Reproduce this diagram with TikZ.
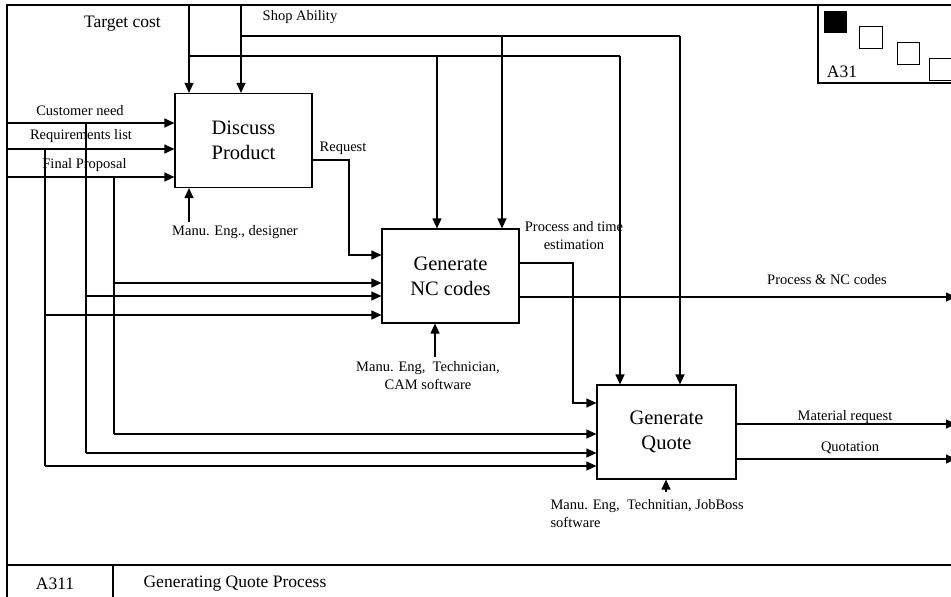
\documentclass[tikz,border=0pt]{standalone}
\usepackage{fontspec}
\setmainfont{Liberation Serif}
\usetikzlibrary{arrows.meta}
\begin{document}
\begin{tikzpicture}[x=1pt,y=-1pt,line width=1.2pt,
  arr/.style={-{Triangle[length=10pt,width=9pt]}},
  proc/.style={draw,rectangle,minimum width=137pt,minimum height=94pt,
    inner sep=0pt,align=center,font=\fontsize{20.5}{25}\selectfont},
  lbl/.style={inner sep=0pt,font=\fontsize{14.5}{18}\selectfont},
  big/.style={inner sep=0pt,font=\fontsize{17.5}{20}\selectfont},
  sq/.style={draw,line width=0.9pt}]
\useasboundingbox (0,0) rectangle (951,597);

% sheet frame and title strip
\draw (7,597) -- (7,5) -- (960,5);
\draw (7,565) -- (960,565);
\draw (113,565) -- (113,597);
\node[big] (num) at (55,584) {A311};
\node[big,anchor=west] (ttl) at (143,584) {Generating Quote Process};

% parent node indicator
\draw (818,5) -- (818,83) -- (960,83);
\fill (824,11) rectangle (847,33);
\draw[sq] (859,26) rectangle (882,48);
\draw[sq] (897,42) rectangle (919,64);
\draw[sq] (929,58) rectangle (956,80);
\node[big] (par) at (842,72) {A31};

% activities
\node[proc] (dp) at (243.5,140.5) {Discuss\\Product};
\node[proc] (nc) at (450.5,276) {Generate\\NC codes};
\node[proc,minimum width=139pt] (gq) at (666.5,432) {Generate\\Quote};

% inputs
\coordinate (cn) at (7,123);
\coordinate (rl) at (7,149);
\coordinate (fp) at (7,177);
\draw[arr] (cn) -- (dp.west |- cn);
\draw[arr] (rl) -- (dp.west |- rl);
\draw[arr] (fp) -- (dp.west |- fp);
\node[lbl] (lcn) at (80,111) {Customer need};
\node[lbl] (lrl) at (81,136) {Requirements list};
\node[lbl] (lfp) at (84.5,165) {Final Proposal};

% customer need branch
\coordinate (c1) at (86,123);
\coordinate (c2) at (86,296);
\coordinate (c3) at (86,453);
\draw (c1) -- (c3);
\draw[arr] (c2) -- (nc.west |- c2);
\draw[arr] (c3) -- (gq.west |- c3);
% requirements list branch
\coordinate (r1) at (45,149);
\coordinate (r2) at (45,315);
\coordinate (r3) at (45,466);
\draw (r1) -- (r3);
\draw[arr] (r2) -- (nc.west |- r2);
\draw[arr] (r3) -- (gq.west |- r3);
% final proposal branch
\coordinate (f1) at (114,177);
\coordinate (f2) at (114,283);
\coordinate (f3) at (114,434);
\draw (f1) -- (f3);
\draw[arr] (f2) -- (nc.west |- f2);
\draw[arr] (f3) -- (gq.west |- f3);

% controls from the top
\coordinate (tc) at (189,5);
\coordinate (tcb) at (189,56);
\coordinate (tcq) at (620,56);
\coordinate (tcn) at (437,56);
\draw[arr] (tc) -- (dp.north -| tc);
\draw (tcb) -- (tcq);
\draw[arr] (tcq) -- (gq.north -| tcq);
\draw[arr] (tcn) -- (nc.north -| tcn);
\node[big] (ltc) at (122.5,24) {Target cost};

\coordinate (sa) at (241,5);
\coordinate (sab) at (241,36);
\coordinate (saq) at (680,36);
\coordinate (san) at (502,36);
\draw[arr] (sa) -- (dp.north -| sa);
\draw (sab) -- (saq);
\draw[arr] (saq) -- (gq.north -| saq);
\draw[arr] (san) -- (nc.north -| san);
\node[lbl] (lsa) at (300,17) {Shop Ability};

% request
\coordinate (rq1) at (312,160);
\coordinate (rq2) at (349,160);
\coordinate (rq3) at (349,255);
\draw[arr] (dp.east |- rq1) -- (rq2) -- (rq3) -- (nc.west |- rq3);
\node[lbl] (lrq) at (343,148) {Request};

% process and time estimation
\coordinate (pt1) at (519,263);
\coordinate (pt2) at (573,263);
\coordinate (pt3) at (573,403);
\draw[arr] (nc.east |- pt1) -- (pt2) -- (pt3) -- (gq.west |- pt3);
\node[lbl,align=center] (lpt) at (574,236) {Process and time\\estimation};

% outputs
\coordinate (o1) at (956,297);
\coordinate (o2) at (956,424);
\coordinate (o3) at (956,459);
\draw[arr] (nc.east |- o1) -- (o1);
\draw[arr] (gq.east |- o2) -- (o2);
\draw[arr] (gq.east |- o3) -- (o3);
\node[lbl] (lo1) at (827,280) {Process \& NC codes};
\node[lbl] (lo2) at (845,417) {Material request};
\node[lbl] (lo3) at (850,448) {Quotation};

% mechanisms
\coordinate (m1) at (189,222);
\coordinate (m2) at (435,357);
\coordinate (m3) at (666,492);
\draw[arr] (m1) -- (dp.south -| m1);
\draw[arr] (m2) -- (nc.south -| m2);
\draw[arr] (m3) -- (gq.south -| m3);
\node[lbl] (lm1) at (235,232) {Manu. Eng., designer};
\node[lbl,align=center] (lm2) at (428,376) {Manu. Eng,\ \ Technician,\\CAM software};
\node[lbl,align=left,anchor=west] (lm3) at (550,514) {Manu. Eng,\ \ Technitian, JobBoss\\software};
\end{tikzpicture}
\end{document}
